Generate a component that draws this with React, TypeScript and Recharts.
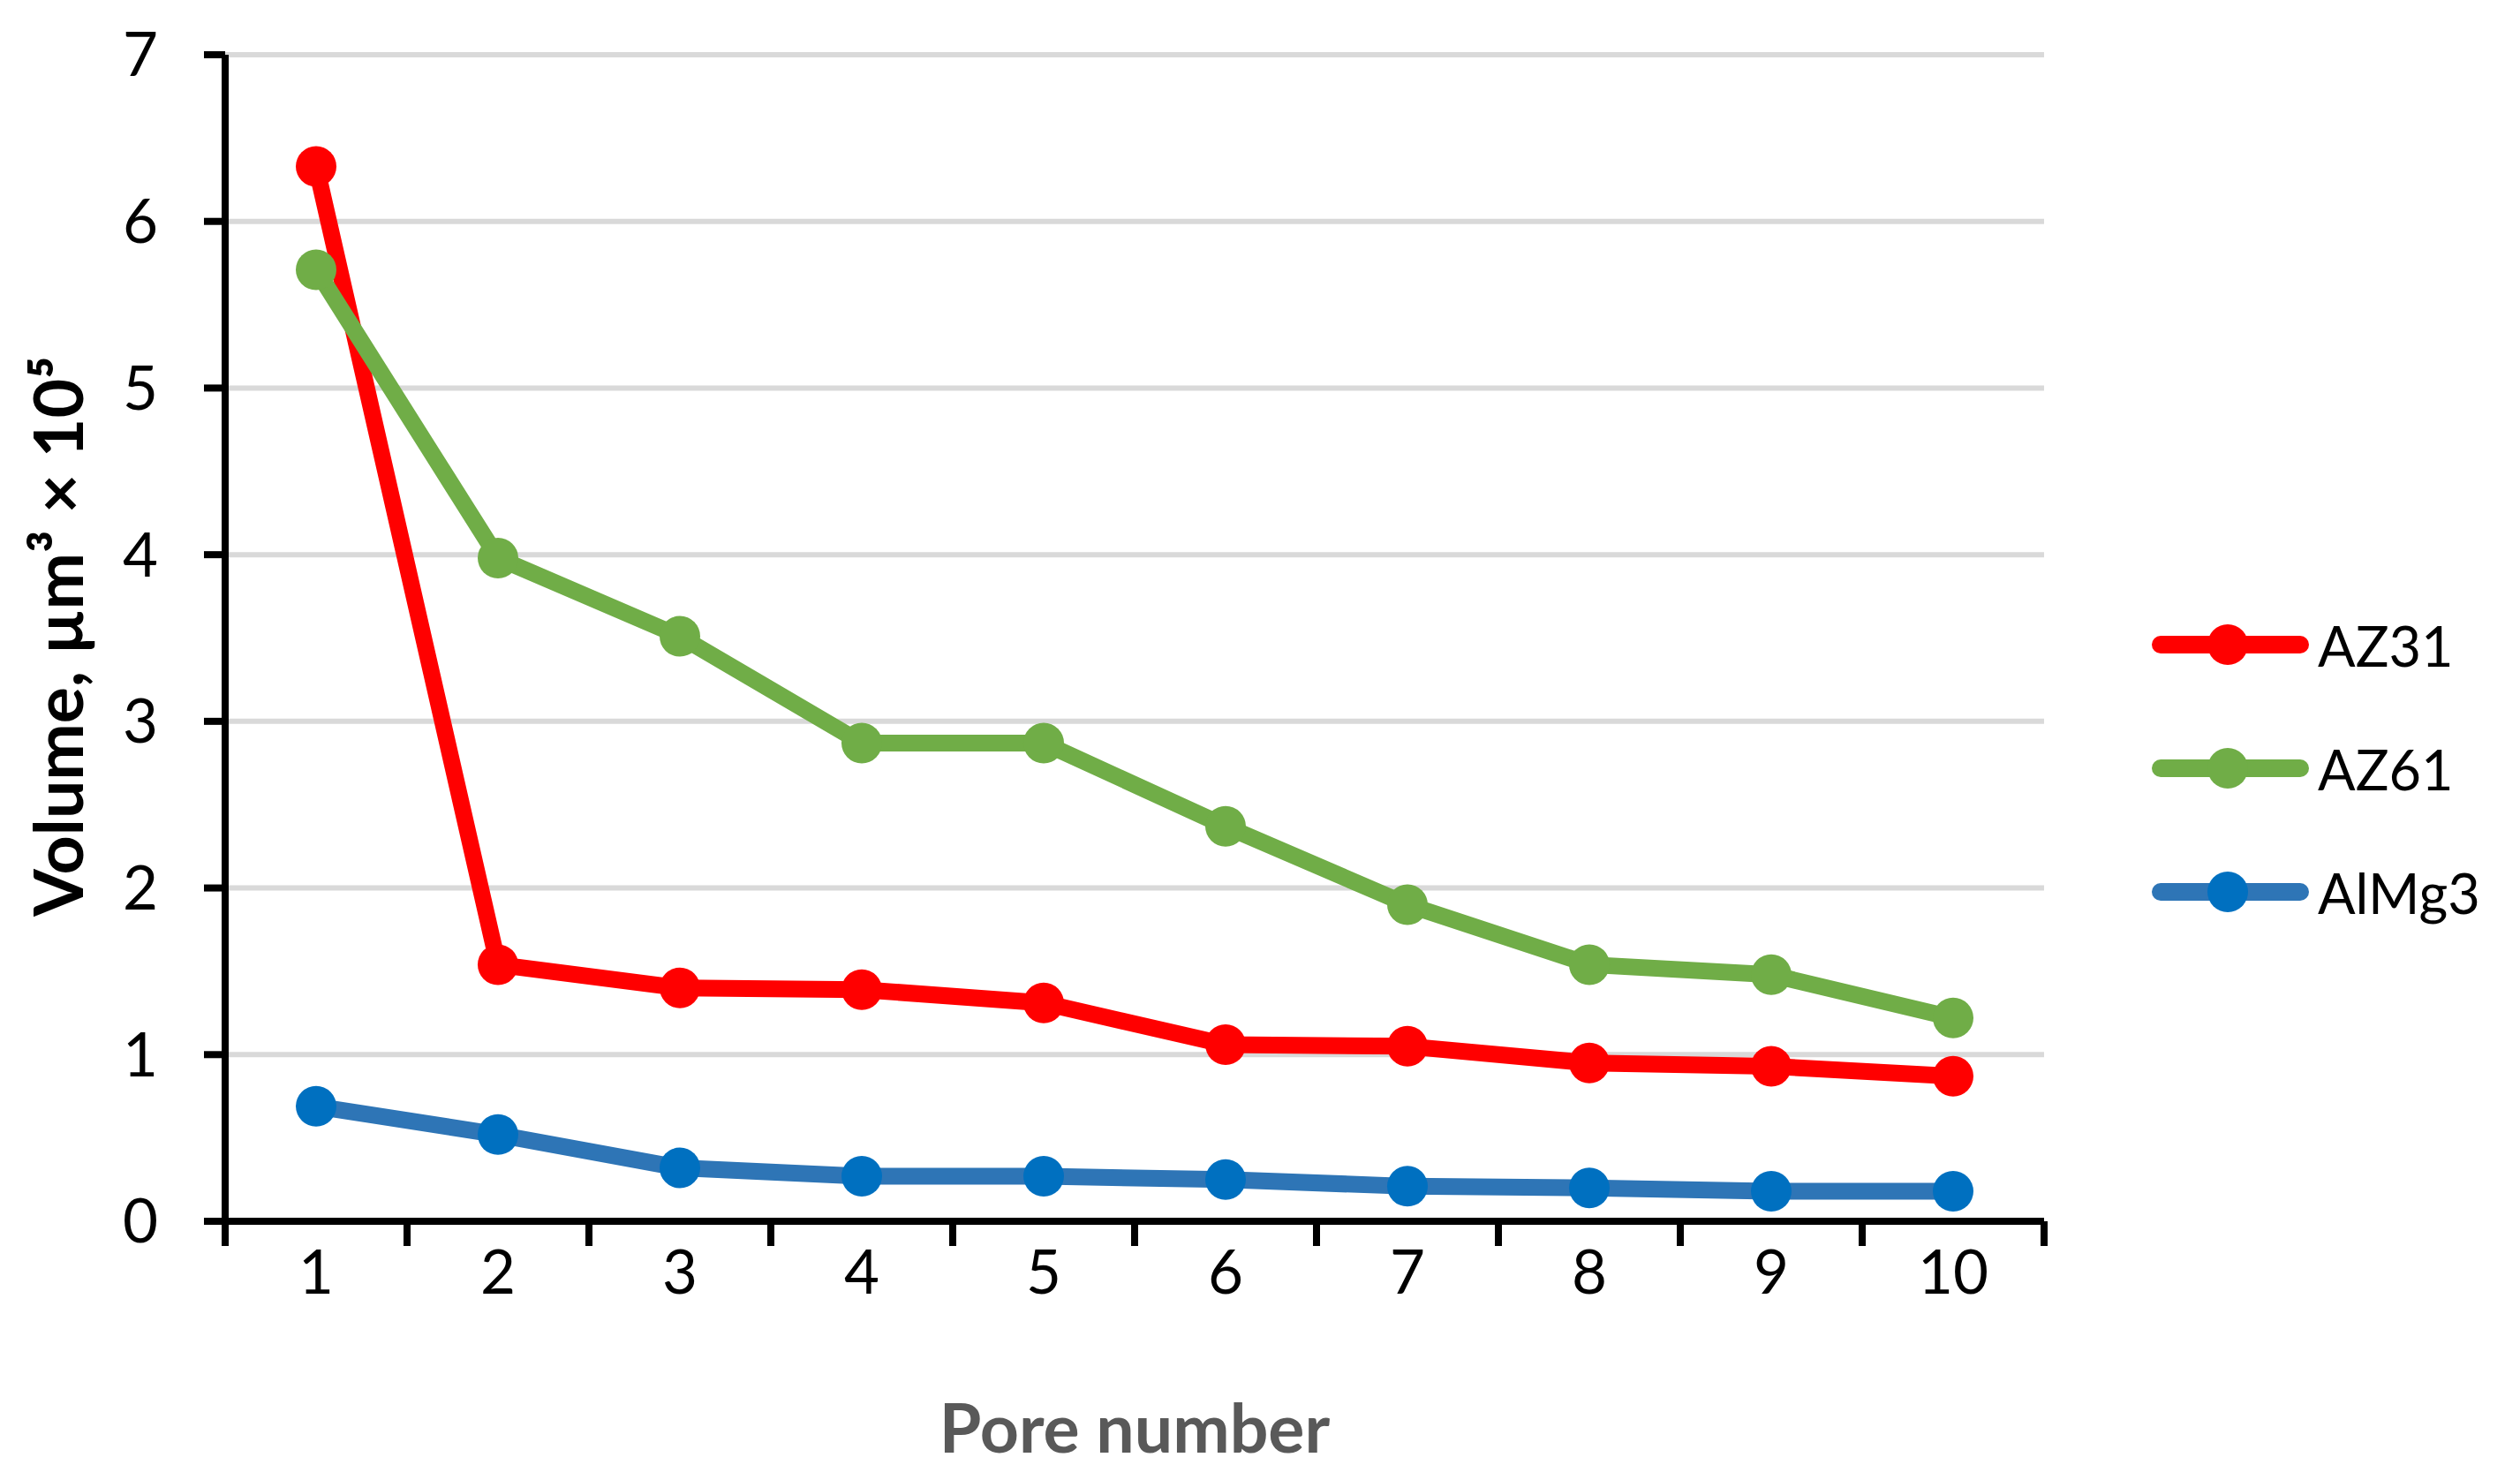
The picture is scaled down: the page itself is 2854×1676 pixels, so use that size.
import React from 'react';
import { LineChart, Line, XAxis, YAxis, CartesianGrid, Legend, Label } from 'recharts';

// ---- data ----
const poreNumbers = [1, 2, 3, 4, 5, 6, 7, 8, 9, 10];
const az31 = [6.33, 1.54, 1.4, 1.39, 1.31, 1.06, 1.05, 0.95, 0.93, 0.87];
const az61 = [5.71, 3.98, 3.51, 2.87, 2.87, 2.37, 1.9, 1.54, 1.48, 1.22];
const alMg3 = [0.69, 0.52, 0.32, 0.27, 0.27, 0.25, 0.21, 0.2, 0.18, 0.18];
const yTicks = [0, 1, 2, 3, 4, 5, 6, 7];
const seriesNames = ['AZ31', 'AZ61', 'AlMg3'];
const xTitle = 'Pore number';
const yTitle = 'Volume, µm³ × 10⁵';

const lineColors: Record<string, string> = { AZ31: '#FF0000', AZ61: '#70AD47', AlMg3: '#2E75B6' };
const markerColors: Record<string, string> = { AZ31: '#FF0000', AZ61: '#70AD47', AlMg3: '#0070C0' };

const data = poreNumbers.map((p, i) => ({ pore: p, AZ31: az31[i], AZ61: az61[i], AlMg3: alMg3[i] }));

// tick values: category centres (labels) and category boundaries (tick marks)
const xMin = poreNumbers[0] - 0.5;
const xMax = poreNumbers[poreNumbers.length - 1] + 0.5;
const xTicks = [...poreNumbers, ...poreNumbers.map((p) => p - 0.5), xMax].sort((a, b) => a - b);

const FONT = 'Lato, "Open Sans", sans-serif';

const XTick = (props: any) => {
  const { x, y, payload } = props;
  const v = payload.value;
  if (Number.isInteger(v)) {
    return (
      <text x={x} y={y + 82} textAnchor="middle" fontSize={69} fill="#000" fontFamily={FONT}>
        {v}
      </text>
    );
  }
  return <line x1={x} y1={y} x2={x} y2={y + 28} stroke="#000" strokeWidth={8} />;
};

const renderLegend = (props: any) => {
  const payload = props.payload || [];
  return (
    <div style={{ fontFamily: FONT }}>
      {payload.map((e: any) => {
        const name = e.value;
        return (
          <div key={name} style={{ display: 'flex', alignItems: 'center', height: 140 }}>
            <svg width={193} height={50} style={{ display: 'block' }}>
              <line x1={15} y1={25} x2={173} y2={25} stroke={lineColors[name]} strokeWidth={20} strokeLinecap="round" />
              <circle cx={91} cy={25} r={23} fill={markerColors[name]} />
            </svg>
            <span style={{ fontSize: 63, color: '#000', lineHeight: 1 }}>{name}</span>
          </div>
        );
      })}
    </div>
  );
};

export default function App() {
  return (
    <div style={{ position: 'absolute', left: 0, top: 0, fontFamily: FONT, background: '#fff' }}>
      <LineChart
        width={2854}
        height={1676}
        data={data}
        margin={{ top: 62, right: 539, bottom: 0, left: 0 }}
      >
        <CartesianGrid horizontal vertical={false} stroke="#D9D9D9" strokeWidth={6} />
        <XAxis
          dataKey="pore"
          type="number"
          domain={[xMin, xMax]}
          ticks={xTicks}
          interval={0}
          tickSize={0}
          tickMargin={0}
          tickLine={false}
          axisLine={{ stroke: '#000', strokeWidth: 8 }}
          tick={<XTick />}
          height={293}
          allowDataOverflow
        >
          <Label
            content={(p: any) => {
              const { x, y, width } = p.viewBox;
              return (
                <text
                  x={x + width / 2}
                  y={y + 262}
                  textAnchor="middle"
                  fontSize={77}
                  fontWeight="bold"
                  fill="#595959"
                  fontFamily={FONT}
                >
                  {xTitle}
                </text>
              );
            }}
          />
        </XAxis>
        <YAxis
          type="number"
          domain={[0, 7]}
          ticks={yTicks}
          interval={0}
          width={255}
          tickSize={24}
          tickMargin={52}
          tickLine={{ stroke: '#000', strokeWidth: 8 }}
          axisLine={{ stroke: '#000', strokeWidth: 8 }}
          tick={{ fontSize: 69, fill: '#000', fontFamily: FONT }}
        >
          <Label
            content={(p: any) => {
              const { x, y, height } = p.viewBox;
              const cx = x + 64;
              const cy = y + height / 2 - 2;
              return (
                <text
                  x={cx}
                  y={cy}
                  transform={`rotate(-90 ${cx} ${cy})`}
                  textAnchor="middle"
                  dominantBaseline="central"
                  fontSize={77}
                  fontWeight="bold"
                  fill="#000"
                  fontFamily={FONT}
                >
                  {yTitle}
                </text>
              );
            }}
          />
        </YAxis>
        <Legend
          layout="vertical"
          align="center"
          verticalAlign="middle"
          wrapperStyle={{ left: 2432, top: 660, width: 422 }}
          content={renderLegend}
        />
        {seriesNames.map((name) => (
          <Line
            key={name}
            type="linear"
            dataKey={name}
            name={name}
            stroke={lineColors[name]}
            strokeWidth={19}
            strokeLinejoin="round"
            dot={{ r: 23, fill: markerColors[name], stroke: 'none', strokeWidth: 0 }}
            activeDot={false}
            isAnimationActive={false}
          />
        ))}
      </LineChart>
    </div>
  );
}
